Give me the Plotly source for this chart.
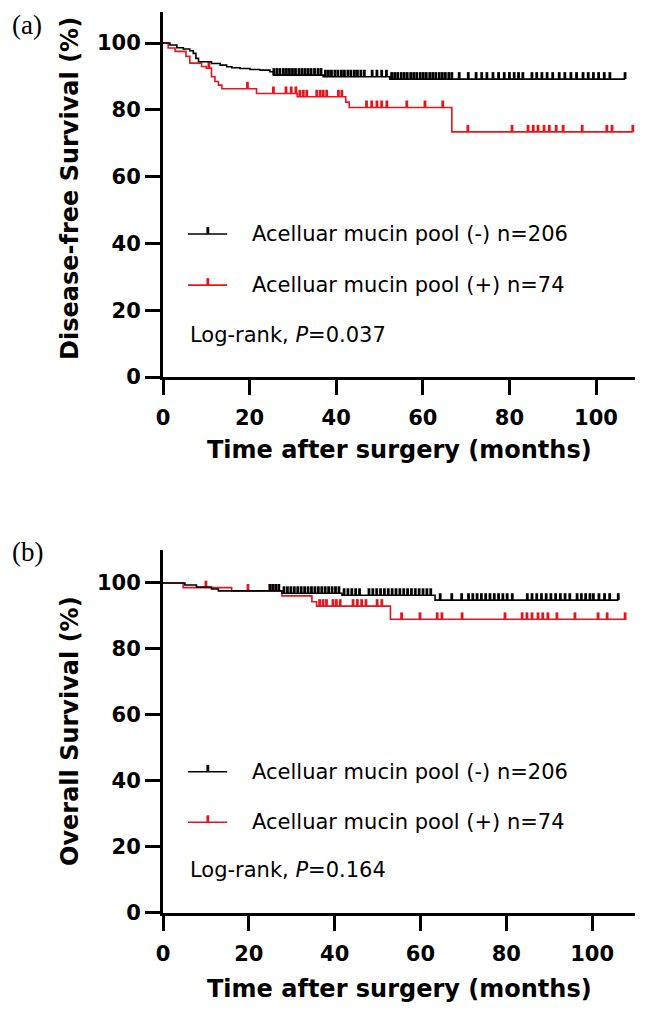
import plotly.graph_objects as go

# ---------------- data ----------------
x_tick_vals = [0, 20, 40, 60, 80, 100]
y_tick_vals = [0, 20, 40, 60, 80, 100]

group_labels = ["Acelluar mucin pool (-) n=206", "Acelluar mucin pool (+) n=74"]
dfs_p_text = "Log-rank, <i>P</i>=0.037"
os_p_text = "Log-rank, <i>P</i>=0.164"
dfs_y_title = "Disease-free Survival (%)"
os_y_title = "Overall Survival (%)"
x_title = "Time after surgery (months)"
panel_labels = ["(a)", "(b)"]

# (a) Disease-free survival, mucin pool (-)
dfs_neg_event_t = [1.6, 3.2, 4.7, 6.2, 7.0, 7.6, 8.2, 11.2, 13.2, 14.7, 15.9, 17.8, 20.1, 22.4, 24.7, 25.5, 37.0, 52.4]
dfs_neg_event_s = [99.4, 98.6, 98.2, 97.7, 96.9, 95.4, 94.4, 93.9, 93.4, 92.9, 92.6, 92.4, 92.1, 91.9, 91.4, 90.4, 89.9, 89.2]
dfs_neg_end_t = 106.7
dfs_neg_censor_t = [25.6, 26.3, 27.0, 27.8, 28.5, 29.2, 29.9, 30.6, 31.4, 32.1, 32.8, 33.5, 34.2, 35.0, 35.8, 36.5,
                    37.5, 38.2, 38.9, 39.7, 40.4, 41.2, 41.9, 42.7, 43.4, 44.2, 44.9, 45.7, 46.5,
                    48.3, 49.4, 50.5, 51.6,
                    52.8, 53.5, 54.2, 55.0, 55.7, 56.4, 57.2, 57.9, 58.6, 59.4, 60.1, 60.8, 61.6, 62.3, 63.0, 63.8,
                    64.5, 65.2, 66.0, 66.7, 68.4, 70.5, 72.3, 73.6, 74.8, 76.2, 77.5, 78.8, 80.0, 81.1, 82.1, 83.1,
                    85.2, 86.3, 87.5, 88.7, 90.0, 91.5, 92.8, 94.2, 95.5, 97.0, 98.2, 99.4, 100.6, 101.9, 103.2, 106.7]

# (a) Disease-free survival, mucin pool (+)
dfs_pos_event_t = [1.2, 2.8, 5.3, 6.2, 8.9, 10.0, 11.2, 12.0, 12.8, 13.6, 21.6, 31.0, 42.2, 43.0, 66.7]
dfs_pos_event_s = [98.5, 97.5, 96.0, 94.0, 93.0, 92.5, 89.9, 88.5, 87.4, 86.3, 84.9, 83.9, 82.3, 80.7, 73.4]
dfs_pos_end_t = 108.5
dfs_pos_censor_t = [10.6, 19.5, 25.5, 28.4, 29.6, 30.7, 31.6, 32.4, 33.2, 35.5, 36.3, 37.0, 37.8, 40.5, 41.3,
                    47.0, 48.2, 49.4, 50.5, 51.7, 56.3, 60.5, 64.6, 70.4, 80.6, 84.3, 85.5, 86.6, 88.0, 89.2,
                    90.8, 92.4, 96.8, 102.5, 103.7, 108.5]

# (b) Overall survival, mucin pool (-)
os_neg_event_t = [5.1, 7.8, 11.3, 12.9, 27.7, 41.7, 63.4]
os_neg_event_s = [99.4, 98.8, 98.2, 97.6, 96.9, 96.3, 94.8]
os_neg_end_t = 106.1
os_neg_censor_t = [24.9, 25.6, 26.3, 27.0, 28.2, 29.0, 29.8, 30.6, 31.4, 32.2, 33.0, 33.8, 34.6, 35.4, 36.2, 37.0,
                   37.8, 38.6, 39.4, 40.2, 41.0, 42.2, 43.1, 44.0, 44.9, 45.8, 48.0, 48.9, 49.8, 50.7, 51.6, 52.5,
                   53.4, 54.3, 55.2, 56.1, 57.0, 57.9, 58.8, 59.7, 60.6, 61.5, 62.4, 64.6, 67.3, 69.6, 71.2, 72.2,
                   73.2, 74.2, 75.2, 76.2, 77.2, 78.2, 79.2, 80.2, 81.4, 84.9, 86.0, 87.1, 88.2, 89.3, 90.4, 91.5,
                   92.6, 93.7, 94.8, 96.5, 97.5, 98.5, 99.5, 100.3, 101.6, 102.9, 104.1, 106.1]

# (b) Overall survival, mucin pool (+)
os_pos_event_t = [4.7, 16.0, 27.7, 34.7, 35.8, 53.0]
os_pos_event_s = [98.6, 97.6, 96.1, 94.3, 93.0, 89.0]
os_pos_end_t = 108.0
os_pos_censor_t = [10.0, 19.8, 25.6, 36.5, 37.3, 38.1, 39.6, 40.4, 41.3, 44.3, 45.3, 46.3, 47.3, 49.9, 51.0, 55.6,
                   59.9, 63.9, 65.0, 69.7, 79.7, 83.7, 84.8, 86.0, 87.4, 88.5, 89.7, 91.8, 96.0, 101.4, 103.5, 107.7]

# ---------------- style ----------------
BLACK = "#000000"
RED = "#e8141c"
TICK_H = 2.1          # censor tick height in % units
BOLD = dict(family="DejaVu Sans", weight="bold", color=BLACK)


def step_points(ev_t, ev_s, end_t):
    xs = [0] + list(ev_t) + [end_t]
    ys = [100] + list(ev_s) + [ev_s[-1]]
    return xs, ys


def surv_at(t, ev_t, ev_s):
    s = 100
    for et, es in zip(ev_t, ev_s):
        if et <= t:
            s = es
    return s


def censor_segments(c_t, ev_t, ev_s):
    xs, ys = [], []
    for c in c_t:
        s = surv_at(c, ev_t, ev_s)
        xs += [c, c, None]
        ys += [s, s + TICK_H, None]
    return xs, ys


fig = go.Figure()

panels = [
    ("x", "y", [(dfs_pos_event_t, dfs_pos_event_s, dfs_pos_end_t, dfs_pos_censor_t, RED),
                (dfs_neg_event_t, dfs_neg_event_s, dfs_neg_end_t, dfs_neg_censor_t, BLACK)]),
    ("x2", "y2", [(os_pos_event_t, os_pos_event_s, os_pos_end_t, os_pos_censor_t, RED),
                  (os_neg_event_t, os_neg_event_s, os_neg_end_t, os_neg_censor_t, BLACK)]),
]

for xa, ya, curves in panels:
    for ev_t, ev_s, end_t, c_t, col in curves:
        sx, sy = step_points(ev_t, ev_s, end_t)
        fig.add_trace(go.Scatter(x=sx, y=sy, mode="lines", line=dict(color=col, width=1.6, shape="hv"),
                                 xaxis=xa, yaxis=ya, showlegend=False, hoverinfo="skip"))
        cx, cy = censor_segments(c_t, ev_t, ev_s)
        fig.add_trace(go.Scatter(x=cx, y=cy, mode="lines", line=dict(color=col, width=2.8),
                                 xaxis=xa, yaxis=ya, showlegend=False, hoverinfo="skip"))

axis_common = dict(showline=True, linewidth=3, linecolor=BLACK, ticks="outside", tickwidth=3,
                   tickcolor=BLACK, showgrid=False, zeroline=False, tickfont=dict(size=21, **BOLD))

fig.update_layout(
    width=649, height=1013,
    margin=dict(l=155, r=22, t=4, b=108),
    paper_bgcolor="white", plot_bgcolor="white",
    xaxis=dict(domain=[0, 1], anchor="y", range=[0, 109], tickvals=x_tick_vals, ticklen=15,
               ticklabelstandoff=5, **axis_common),
    yaxis=dict(domain=[0.5949, 1], anchor="x", range=[0, 109.3], tickvals=y_tick_vals, ticklen=15,
               **axis_common),
    xaxis2=dict(domain=[0, 1], anchor="y2", range=[0, 110], tickvals=x_tick_vals, ticklen=15,
                ticklabelstandoff=5, **axis_common),
    yaxis2=dict(domain=[0, 0.4029], anchor="x2", range=[0, 110], tickvals=y_tick_vals, ticklen=15,
                **axis_common),
)

shapes = []
annotations = []
legend_rows = [42.8, 27.5]
legend_cols = [BLACK, RED]
for xr, yr in [("x domain", "y"), ("x2 domain", "y2")]:
    for row_y, col, lab in zip(legend_rows, legend_cols, group_labels):
        shapes.append(dict(type="line", xref=xr, yref=yr, x0=0.053, x1=0.136, y0=row_y, y1=row_y,
                           line=dict(color=col, width=1.6)))
        shapes.append(dict(type="line", xref=xr, yref=yr, x0=0.095, x1=0.095, y0=row_y, y1=row_y + TICK_H,
                           line=dict(color=col, width=2.8)))
        annotations.append(dict(xref=xr, yref=yr, x=0.184, y=row_y, text=lab, showarrow=False,
                                xanchor="left", yanchor="middle",
                                font=dict(family="DejaVu Sans", size=21, color=BLACK)))

annotations.append(dict(xref="x domain", yref="y", x=0.053, y=12.7, text=dfs_p_text, showarrow=False,
                        xanchor="left", yanchor="middle", font=dict(family="DejaVu Sans", size=21, color=BLACK)))
annotations.append(dict(xref="x2 domain", yref="y2", x=0.053, y=13.0, text=os_p_text, showarrow=False,
                        xanchor="left", yanchor="middle", font=dict(family="DejaVu Sans", size=21, color=BLACK)))

# axis titles
annotations.append(dict(xref="paper", yref="paper", x=0.5, y=0.5139, text=x_title, showarrow=False,
                        xanchor="center", yanchor="middle", font=dict(size=24, **BOLD)))
annotations.append(dict(xref="paper", yref="paper", x=0.5, y=-0.0844, text=x_title, showarrow=False,
                        xanchor="center", yanchor="middle", font=dict(size=24, **BOLD)))
annotations.append(dict(xref="paper", yref="paper", x=-0.197, y=0.8036, text=dfs_y_title, showarrow=False,
                        textangle=-90, xanchor="center", yanchor="middle", font=dict(size=24, **BOLD)))
annotations.append(dict(xref="paper", yref="paper", x=-0.197, y=0.202, text=os_y_title, showarrow=False,
                        textangle=-90, xanchor="center", yanchor="middle", font=dict(size=24, **BOLD)))

# panel labels
annotations.append(dict(xref="paper", yref="paper", x=-0.3245, y=1.004, text=panel_labels[0], showarrow=False,
                        xanchor="left", yanchor="top",
                        font=dict(family="Liberation Serif", size=27, color=BLACK)))
annotations.append(dict(xref="paper", yref="paper", x=-0.3245, y=0.4007, text=panel_labels[1], showarrow=False,
                        xanchor="left", yanchor="middle",
                        font=dict(family="Liberation Serif", size=27, color=BLACK)))

fig.update_layout(shapes=shapes, annotations=annotations)

fig.write_html("out.html")
